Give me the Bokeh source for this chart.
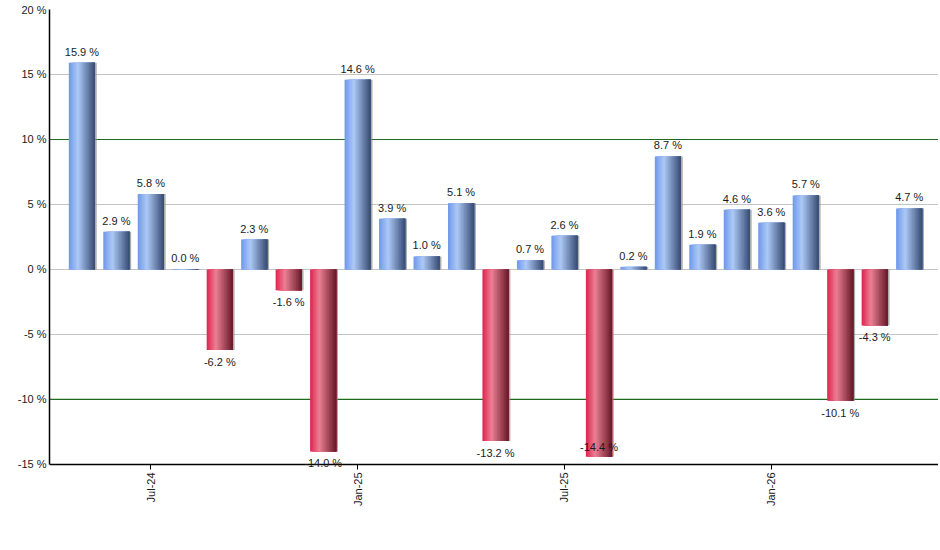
import math
from bokeh.plotting import figure
from bokeh.models import FixedTicker, PrintfTickFormatter, Span, Range1d, Label
from bokeh.embed import file_html
from bokeh.resources import INLINE

months = ["May-24", "Jun-24", "Jul-24", "Aug-24", "Sep-24", "Oct-24", "Nov-24", "Dec-24",
          "Jan-25", "Feb-25", "Mar-25", "Apr-25", "May-25", "Jun-25", "Jul-25", "Aug-25",
          "Sep-25", "Oct-25", "Nov-25", "Dec-25", "Jan-26", "Feb-26", "Mar-26", "Apr-26",
          "May-26"]
returns = [15.9, 2.9, 5.8, 0.04, -6.2, 2.3, -1.6, -14.0,
           14.6, 3.9, 1.0, 5.1, -13.2, 0.7, 2.6, -14.4,
           0.2, 8.7, 1.9, 4.6, 3.6, 5.7, -10.1, -4.3,
           4.7]
tick_months = ["Jul-24", "Jan-25", "Jul-25", "Jan-26"]
y_ticks = [-15, -10, -5, 0, 5, 10, 15, 20]

FONT = "Liberation Sans"
BAR_W = 0.76
N_STRIPS = 18
Y_MIN, Y_MAX = -15, 20
# the frame goes on below the axis so that labels near it are not cut off
Y_ROOM = 5.08

# gradient stops across a bar, left to right
BLUE = [(0.0, (110, 152, 234)), (0.35, (174, 202, 247)), (1.0, (54, 74, 114))]
RED = [(0.0, (222, 36, 78)), (0.35, (236, 128, 148)), (1.0, (102, 24, 40))]


def mix(stops, t):
    for (t0, c0), (t1, c1) in zip(stops, stops[1:]):
        if t <= t1:
            f = (t - t0) / (t1 - t0)
            return "#%02x%02x%02x" % tuple(int(a + (b - a) * f) for a, b in zip(c0, c1))
    return "#%02x%02x%02x" % stops[-1][1]


def draw_bars(p, values):
    left, right, top, bottom, colors = [], [], [], [], []
    for i, v in enumerate(values):
        stops = BLUE if v >= 0 else RED
        x0 = i - BAR_W / 2
        # each strip runs to the bar's right edge, the next one lies on top: no seams
        for k in range(N_STRIPS):
            left.append(x0 + k * BAR_W / N_STRIPS)
            right.append(x0 + BAR_W)
            top.append(max(v, 0))
            bottom.append(min(v, 0))
            colors.append(mix(stops, (k + 0.5) / N_STRIPS))
    # little grey shadow on the right edge
    xs = list(range(len(values)))
    p.quad(left=[x + BAR_W / 2 for x in xs], right=[x + BAR_W / 2 + 0.05 for x in xs],
           top=[max(v, 0) for v in values], bottom=[min(v, 0) for v in values],
           fill_color="#8a8a8a", fill_alpha=0.7, line_color=None)
    p.quad(left=left, right=right, top=top, bottom=bottom, fill_color=colors, line_color=None)


def draw_labels(p, values):
    for i, v in enumerate(values):
        if v >= 0:
            baseline, offset = "bottom", 5
        elif v >= Y_MIN + 0.7:
            baseline, offset = "top", -6
        else:
            # no room below: goes inside the bar
            baseline, offset = "bottom", 4
        p.add_layout(Label(x=i, y=v, text="%.1f %%" % v, text_align="center",
                           text_baseline=baseline, y_offset=offset, text_font=FONT,
                           text_font_size="11px", text_color="#1a1a1a", level="overlay"))


p = figure(width=938, height=534, output_backend="svg", toolbar_location=None,
           x_range=Range1d(-0.94, 24.85), y_range=Range1d(Y_MIN - Y_ROOM, Y_MAX),
           min_border_left=49, min_border_right=0, min_border_top=9, min_border_bottom=4)
p.outline_line_color = None
p.background_fill_color = "white"

p.xgrid.visible = False
p.ygrid.ticker = FixedTicker(ticks=[t for t in y_ticks if t not in (10, -10)])
p.ygrid.grid_line_color = "#c4c4c4"
for loc in (10, -10):
    p.add_layout(Span(location=loc, dimension="width", line_color="#1e6b1e",
                      line_width=1.2, level="underlay"))

draw_bars(p, returns)
draw_labels(p, returns)

p.yaxis.ticker = FixedTicker(ticks=y_ticks)
p.yaxis.bounds = (Y_MIN, Y_MAX)
p.yaxis.formatter = PrintfTickFormatter(format="%d %%")
p.yaxis.major_tick_out = 0
p.yaxis.major_tick_in = 0
p.yaxis.minor_tick_line_color = None
p.yaxis.axis_line_color = "black"
p.yaxis.axis_line_width = 1.5
p.yaxis.major_label_standoff = 3
p.yaxis.major_label_text_font = FONT
p.yaxis.major_label_text_font_size = "11px"
p.yaxis.major_label_text_color = "#1a1a1a"

tick_idx = [months.index(m) for m in tick_months]
p.xaxis.fixed_location = Y_MIN
p.xaxis.ticker = FixedTicker(ticks=tick_idx)
p.xaxis.major_label_overrides = {i: months[i] for i in tick_idx}
p.xaxis.major_label_orientation = math.pi / 2
p.xaxis.major_tick_out = 5
p.xaxis.major_tick_in = 0
p.xaxis.major_tick_line_color = "black"
p.xaxis.minor_tick_line_color = None
p.xaxis.axis_line_color = "black"
p.xaxis.axis_line_width = 1.5
p.xaxis.major_label_standoff = 3
p.xaxis.major_label_text_font = FONT
p.xaxis.major_label_text_font_size = "11px"
p.xaxis.major_label_text_color = "#1a1a1a"

open("out.html", "w").write(file_html(p, INLINE))
